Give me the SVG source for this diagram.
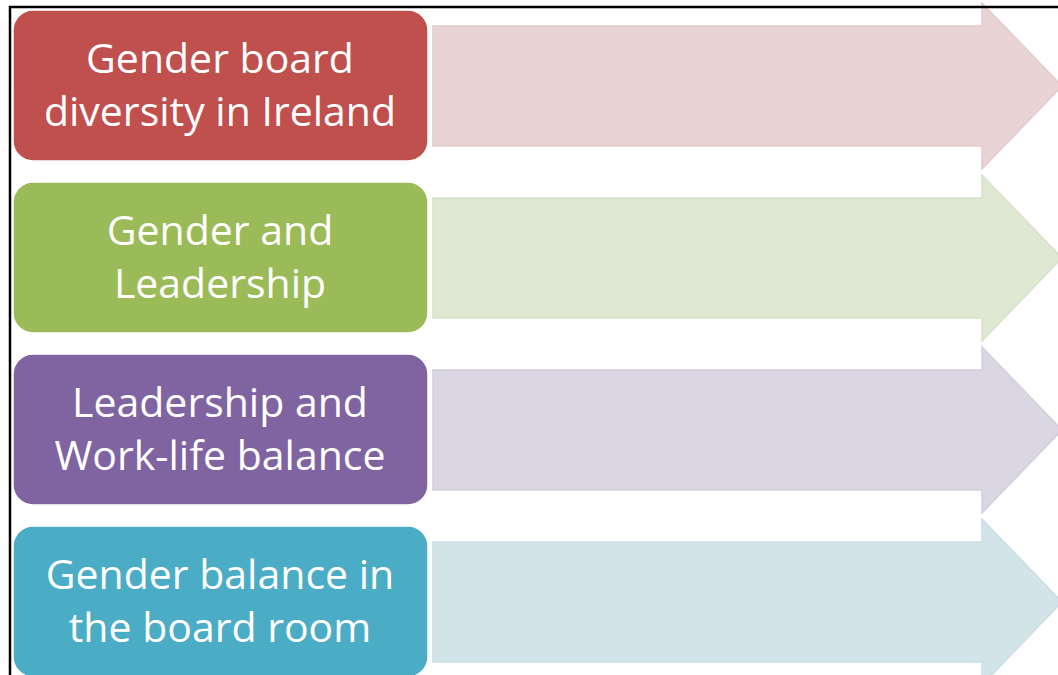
<svg xmlns="http://www.w3.org/2000/svg" width="1058" height="675" viewBox="0 0 1058 675">
<style>
.box{stroke:#ffffff;stroke-width:1.5}
.lbl{font-family:"Open Sans","Liberation Sans",sans-serif;font-size:41px;fill:#ffffff;text-anchor:middle}
.arr{stroke-width:1.5}
</style>
<rect x="0" y="0" width="1058" height="675" fill="#ffffff"/>
<g id="connectors">
<path class="arr" fill="#E8D4D4" stroke="#E3CACA" d="M433,26 H982 V3 L1062,86 L982,169 V146 H433 Z"/>
<path class="arr" fill="#DFE8D3" stroke="#D7E2C9" d="M433,198 H982 V175 L1062,258 L982,341 V318 H433 Z"/>
<path class="arr" fill="#DAD6E3" stroke="#D2CDDD" d="M433,370 H982 V347 L1062,430 L982,513 V490 H433 Z"/>
<path class="arr" fill="#D2E3EA" stroke="#C9DEE6" d="M433,542 H982 V519 L1062,602 L982,685 V662 H433 Z"/>
</g>
<g id="node1">
<rect class="box" x="13" y="10" width="415" height="151" rx="20" fill="#C0504D"/>
<text class="lbl" x="220" y="73">Gender board</text>
<text class="lbl" x="220" y="126">diversity in Ireland</text>
</g>
<g id="node2">
<rect class="box" x="13" y="182" width="415" height="151" rx="20" fill="#9BBB59"/>
<text class="lbl" x="220" y="245">Gender and</text>
<text class="lbl" x="220" y="298">Leadership</text>
</g>
<g id="node3">
<rect class="box" x="13" y="354" width="415" height="151" rx="20" fill="#8064A2"/>
<text class="lbl" x="220" y="417">Leadership and</text>
<text class="lbl" x="220" y="470">Work-life balance</text>
</g>
<g id="node4">
<rect class="box" x="13" y="526" width="415" height="151" rx="20" fill="#4BACC6"/>
<text class="lbl" x="220" y="589">Gender balance in</text>
<text class="lbl" x="220" y="642">the board room</text>
</g>
<path d="M10,680 V7 H1060" fill="none" stroke="#000000" stroke-width="2.5"/>
</svg>
